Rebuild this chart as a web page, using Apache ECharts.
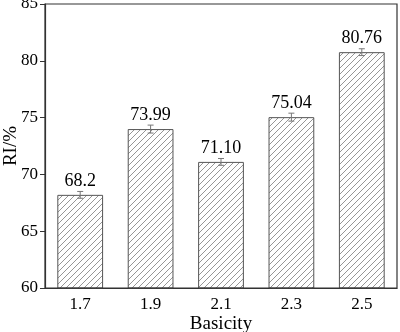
<!DOCTYPE html>
<html><head><meta charset="utf-8">
<script src="https://cdn.jsdelivr.net/npm/echarts@6/dist/echarts.min.js"></script>
<style>html,body{margin:0;padding:0;background:#fff}#c{width:400px;height:332px}</style>
</head><body><div id="c"></div>
<script>
var categories = ['1.7', '1.9', '2.1', '2.3', '2.5'];
var values = [68.2, 73.99, 71.10, 75.04, 80.76];
var labels = ['68.2', '73.99', '71.10', '75.04', '80.76'];
var errors = [0.3, 0.35, 0.3, 0.35, 0.3];
var yTicks = [60, 65, 70, 75, 80, 85];

var pc = document.createElement('canvas');
pc.width = 6; pc.height = 6;
var g = pc.getContext('2d');
g.fillStyle = '#fff'; g.fillRect(0, 0, 6, 6);
g.strokeStyle = '#8a8a8a'; g.lineWidth = 0.9;
g.beginPath();
g.moveTo(-1, 7); g.lineTo(7, -1);
g.moveTo(-4, 4); g.lineTo(4, -4);
g.moveTo(2, 10); g.lineTo(10, 2);
g.stroke();

var font = 'Liberation Serif';
var chart = echarts.init(document.getElementById('c'), null, {renderer: 'canvas'});
chart.setOption({
  animation: false,
  textStyle: {fontFamily: font},
  grid: {left: 45, right: 3, top: 4, bottom: 44, containLabel: false, outerBoundsMode: 'none'},
  xAxis: {
    type: 'category', data: categories,
    name: 'Basicity', nameLocation: 'middle', nameGap: 27, nameMoveOverlap: false,
    nameTextStyle: {fontFamily: font, fontSize: 19, color: '#000'},
    axisLine: {lineStyle: {color: '#333', width: 1.2}},
    axisTick: {show: false},
    axisLabel: {fontFamily: font, fontSize: 17, color: '#000', margin: 8}
  },
  yAxis: {
    type: 'value', min: yTicks[0], max: yTicks[yTicks.length - 1], interval: 5,
    name: 'RI/%', nameLocation: 'middle', nameGap: 24, nameMoveOverlap: false,
    nameTextStyle: {fontFamily: font, fontSize: 19, color: '#000'},
    axisLine: {show: true, lineStyle: {color: '#333', width: 1.2}},
    axisTick: {show: true, length: 5, lineStyle: {color: '#333'}},
    axisLabel: {fontFamily: font, fontSize: 17, color: '#000', margin: 7},
    splitLine: {show: false}
  },
  series: [{
    type: 'bar', data: values, barWidth: '65%',
    itemStyle: {color: {image: pc, repeat: 'repeat'}, borderColor: '#555', borderWidth: 1},
    label: {show: true, position: 'top', distance: 5, fontFamily: font, fontSize: 18, color: '#000',
      formatter: function (p) { return labels[p.dataIndex]; }},
    z: 2
  }, {
    type: 'custom', z: 3,
    data: values.map(function (v, i) { return [i, v - errors[i], v + errors[i]]; }),
    renderItem: function (params, api) {
      var lo = api.coord([api.value(0), api.value(1)]);
      var hi = api.coord([api.value(0), api.value(2)]);
      var hw = 3;
      var st = {stroke: '#777', lineWidth: 1};
      return {type: 'group', children: [
        {type: 'line', shape: {x1: lo[0], y1: lo[1], x2: hi[0], y2: hi[1]}, style: st},
        {type: 'line', shape: {x1: lo[0] - hw, y1: lo[1], x2: lo[0] + hw, y2: lo[1]}, style: st},
        {type: 'line', shape: {x1: hi[0] - hw, y1: hi[1], x2: hi[0] + hw, y2: hi[1]}, style: st}
      ]};
    }
  }]
});
var gr = chart.getModel().getComponent('grid').coordinateSystem.getRect();
chart.setOption({graphic: [{type: 'rect', shape: {x: gr.x, y: gr.y, width: gr.width, height: gr.height},
  style: {fill: 'none', stroke: '#333', lineWidth: 1.2}, z: 10, silent: true}]});
</script></body></html>
